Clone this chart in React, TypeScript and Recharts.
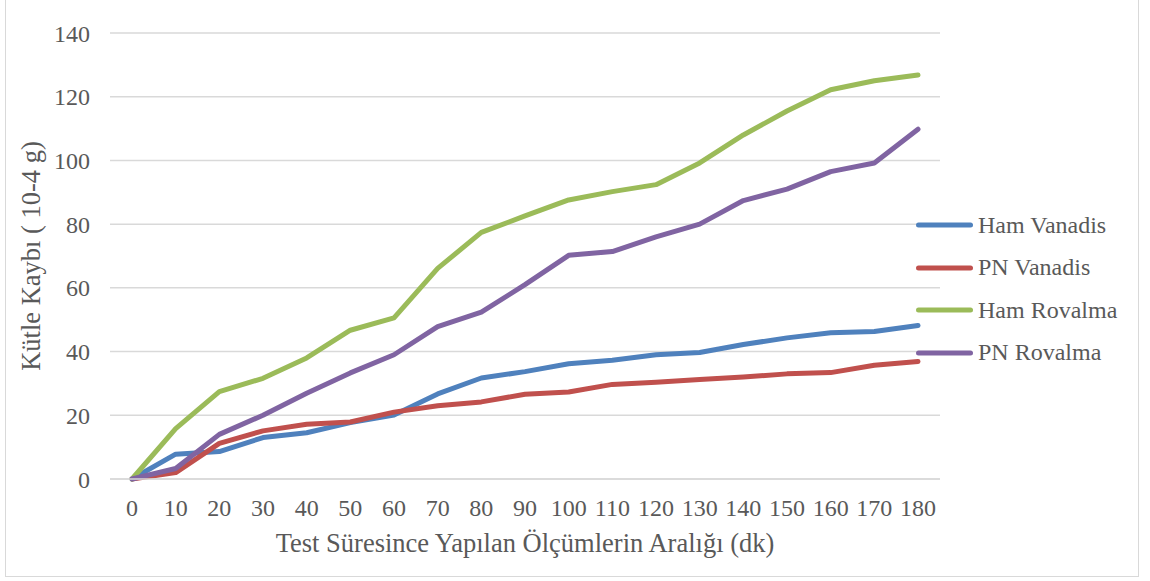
import React from "react";
import { LineChart, Line, XAxis, YAxis, CartesianGrid, Legend, Label } from "recharts";

const minutes = [0, 10, 20, 30, 40, 50, 60, 70, 80, 90, 100, 110, 120, 130, 140, 150, 160, 170, 180];
const hamVanadis = [0, 7.8, 8.6, 13, 14.5, 17.7, 20.1, 26.7, 31.7, 33.7, 36.2, 37.3, 39, 39.7, 42.2, 44.3, 45.9, 46.3, 48.2];
const pnVanadis = [0, 2, 11.2, 15.1, 17.2, 17.9, 21, 23, 24.2, 26.6, 27.3, 29.7, 30.4, 31.2, 32, 33, 33.4, 35.7, 36.9];
const hamRovalma = [0, 15.8, 27.4, 31.6, 38, 46.7, 50.6, 66.1, 77.4, 82.6, 87.6, 90.2, 92.4, 99.2, 108, 115.5, 122.2, 125, 126.8];
const pnRovalma = [0, 3.3, 14, 20, 26.9, 33.3, 39, 47.8, 52.4, 61, 70.2, 71.4, 76, 80, 87.4, 91, 96.5, 99.2, 109.8];
const yTicks = [0, 20, 40, 60, 80, 100, 120, 140];

const series = [
  { key: "hamVanadis", name: "Ham Vanadis", color: "#4F81BD" },
  { key: "pnVanadis", name: "PN Vanadis", color: "#C0504D" },
  { key: "hamRovalma", name: "Ham Rovalma", color: "#9BBB59" },
  { key: "pnRovalma", name: "PN Rovalma", color: "#8064A2" },
];

const data = minutes.map((t, i) => ({
  t,
  hamVanadis: hamVanadis[i],
  pnVanadis: pnVanadis[i],
  hamRovalma: hamRovalma[i],
  pnRovalma: pnRovalma[i],
}));

const FONT = "Liberation Serif, serif";
const TEXT = "#595959";
const GRID = "#d9d9d9";

// legend keeps the series order (recharts sorts the payload by name)
function renderLegend() {
  return (
    <div style={{ fontFamily: FONT, fontSize: 24, color: TEXT }}>
      {series.map((s) => (
        <div key={s.key} style={{ height: 42.5, display: "flex", alignItems: "center", whiteSpace: "nowrap" }}>
          <svg width={60} height={10} style={{ display: "block" }}>
            <line x1={4.5} y1={5} x2={56.5} y2={5} stroke={s.color} strokeWidth={5} strokeLinecap="round" />
          </svg>
          <span style={{ marginLeft: 4 }}>{s.name}</span>
        </div>
      ))}
    </div>
  );
}

export default function App() {
  return (
    <div style={{ position: "absolute", left: 0, top: 0, width: 1150, height: 581, fontFamily: FONT }}>
      <div
        style={{
          position: "absolute",
          left: 5,
          top: -3,
          width: 1134,
          height: 580,
          border: `1.5px solid ${GRID}`,
          boxSizing: "border-box",
        }}
      />
      <LineChart
        width={1150}
        height={581}
        data={data}
        margin={{ top: 33, right: 210, bottom: 0, left: 0 }}
        style={{ fontFamily: FONT }}
      >
        <CartesianGrid vertical={false} stroke={GRID} strokeWidth={1.5} />
        <XAxis
          dataKey="t"
          height={102}
          interval={0}
          padding={{ left: 22, right: 22 }}
          tickLine={false}
          tickSize={0}
          tickMargin={20}
          axisLine={{ stroke: GRID, strokeWidth: 1.5 }}
          tick={{ fill: TEXT, fontSize: 24, fontFamily: FONT }}
        >
          <Label
            content={(p: any) => (
              <text
                x={p.viewBox.x + p.viewBox.width / 2}
                y={p.viewBox.y + 73}
                textAnchor="middle"
                fill={TEXT}
                fontSize={26.5}
                fontFamily={FONT}
              >
                Test Süresince Yapılan Ölçümlerin Aralığı (dk)
              </text>
            )}
          />
        </XAxis>
        <YAxis
          width={110}
          domain={[0, 140]}
          ticks={yTicks}
          axisLine={false}
          tickLine={false}
          tickSize={0}
          tickMargin={20}
          tick={{ fill: TEXT, fontSize: 24, fontFamily: FONT }}
        >
          <Label
            content={(p: any) => {
              const cx = 40;
              const cy = p.viewBox.y + p.viewBox.height / 2;
              return (
                <text
                  x={cx}
                  y={cy}
                  transform={`rotate(-90, ${cx}, ${cy})`}
                  textAnchor="middle"
                  fill={TEXT}
                  fontSize={26.5}
                  fontFamily={FONT}
                >
                  Kütle Kaybı ( 10-4 g)
                </text>
              );
            }}
          />
        </YAxis>
        <Legend
          layout="vertical"
          align="center"
          verticalAlign="middle"
          content={renderLegend}
          wrapperStyle={{ left: 914, top: 204, width: 230 }}
        />
        {series.map((s) => (
          <Line
            key={s.key}
            type="linear"
            dataKey={s.key}
            name={s.name}
            stroke={s.color}
            strokeWidth={5}
            strokeLinecap="round"
            strokeLinejoin="round"
            dot={false}
            activeDot={false}
            isAnimationActive={false}
          />
        ))}
      </LineChart>
    </div>
  );
}
